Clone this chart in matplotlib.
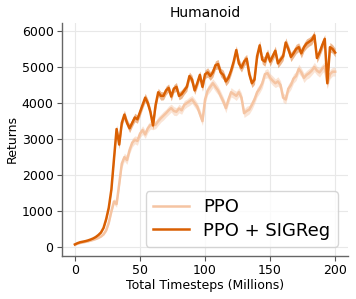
import matplotlib
matplotlib.use("Agg")
import matplotlib.pyplot as plt
import numpy as np

title = "Humanoid"
xlabel = "Total Timesteps (Millions)"
ylabel = "Returns"
labels = ["PPO", "PPO + SIGReg"]

steps = list(range(0, 201, 2))

ppo = [70, 100, 120, 135, 150, 165, 185, 205, 230, 260,
       300, 360, 470, 680, 1000, 1270, 1200, 1750, 2320, 2500,
       2420, 2700, 2900, 2980, 2950, 3150, 3250, 3130, 3300, 3390,
       3380, 3400, 3500, 3580, 3650, 3720, 3800, 3860, 3780, 3760,
       3850, 3800, 3950, 4000, 4050, 4100, 4000, 3900, 3700, 3500,
       4100, 4350, 4450, 4550, 4450, 4350, 4200, 4050, 3860, 4100,
       4300, 4250, 4200, 4300, 4150, 3720, 3780, 3820, 3950, 4100,
       4300, 4400, 4550, 4800, 4830, 4700, 4620, 4550, 4600, 4500,
       4150, 4100, 4400, 4500, 4680, 4750, 4950, 4850, 4700, 4780,
       4830, 4900, 5000, 4900, 4850, 4950, 5020, 4550, 4800, 4870,
       4870]

sigreg = [80, 115, 140, 155, 170, 190, 215, 245, 285, 340,
          410, 540, 780, 1100, 1600, 2450, 3280, 2850, 3450, 3680,
          3450, 3300, 3450, 3600, 3550, 3750, 3950, 4150, 4000, 3750,
          3380, 3950, 4300, 4200, 4200, 4350, 4420, 4180, 4400, 4450,
          4200, 4250, 4350, 4450, 4750, 4650, 4350, 4550, 4780, 4450,
          4800, 4850, 4750, 4850, 5050, 5080, 4850, 4780, 4600, 4700,
          4900, 5150, 5470, 5100, 4980, 5150, 5230, 4800, 4550, 4650,
          5300, 5600, 5200, 5150, 5380, 5150, 5300, 5450, 5100, 5200,
          5300, 5680, 5500, 5280, 5380, 5500, 5550, 5380, 5550, 5650,
          5700, 5750, 5880, 5250, 5400, 5600, 5780, 4550, 5550, 5500,
          5400]

ppo_std = [10, 10, 10, 10, 10, 10, 12, 12, 14, 16,
           20, 25, 35, 50, 70, 80, 90, 110, 120, 110,
           120, 110, 120, 110, 120, 110, 120, 110, 120, 110,
           120, 110, 120, 110, 120, 110, 120, 110, 120, 110,
           120, 110, 120, 110, 120, 110, 120, 110, 130, 120,
           130, 120, 130, 120, 130, 120, 130, 120, 130, 120,
           130, 120, 130, 120, 130, 120, 130, 120, 130, 120,
           130, 120, 130, 120, 130, 120, 130, 120, 130, 120,
           130, 120, 130, 120, 130, 120, 130, 120, 130, 120,
           130, 120, 130, 120, 130, 120, 130, 140, 130, 120,
           120]

sigreg_std = [10, 10, 10, 10, 10, 10, 12, 12, 14, 16,
              20, 25, 35, 50, 70, 90, 110, 120, 110, 120,
              110, 120, 110, 120, 110, 120, 110, 120, 110, 120,
              110, 120, 110, 120, 110, 120, 110, 120, 110, 120,
              110, 120, 110, 120, 110, 120, 110, 120, 110, 120,
              120, 130, 120, 130, 120, 130, 120, 130, 120, 130,
              120, 130, 120, 130, 120, 130, 120, 130, 120, 130,
              120, 130, 120, 130, 120, 130, 120, 130, 120, 130,
              120, 130, 120, 130, 120, 130, 120, 130, 120, 130,
              120, 130, 120, 130, 120, 130, 120, 150, 130, 120,
              120]

c_ppo = "#F5C4A2"
c_sig = "#D95F02"

fig = plt.figure(figsize=(3.56, 2.99), dpi=100)
ax = fig.add_axes([0.174, 0.144, 0.804, 0.779])

x = np.array(steps)
for vals, sd, col, lab in [(ppo, ppo_std, c_ppo, labels[0]),
                           (sigreg, sigreg_std, c_sig, labels[1])]:
    v = np.array(vals, dtype=float)
    s = np.array(sd, dtype=float)
    ax.fill_between(x, v - s, v + s, color=col, alpha=0.45, linewidth=0)
    ax.plot(x, v, color=col, linewidth=1.8, label=lab)

ax.set_xlim(-10, 210)
ax.set_ylim(-240, 6220)
ax.set_xticks([0, 50, 100, 150, 200])
ax.set_yticks([0, 1000, 2000, 3000, 4000, 5000, 6000])
ax.tick_params(labelsize=9, color="#555555", length=3.5, pad=2.5)
ax.grid(True, color="#e8e8e8", linewidth=0.8)
ax.set_axisbelow(True)
for sp in ["top", "right"]:
    ax.spines[sp].set_visible(False)
for sp in ["left", "bottom"]:
    ax.spines[sp].set_color("#666666")
    ax.spines[sp].set_linewidth(1.0)

ax.set_title(title, fontsize=10, pad=4)
ax.set_xlabel(xlabel, fontsize=9, labelpad=1)
ax.set_ylabel(ylabel, fontsize=9, labelpad=2)

leg = ax.legend(loc="lower right", fontsize=13, frameon=True,
                handlelength=2.0, borderpad=0.4, labelspacing=0.3,
                handletextpad=0.8, bbox_to_anchor=(0.995, 0.0))
leg.get_frame().set_edgecolor("#cccccc")

fig.savefig("out.png", dpi=100)
